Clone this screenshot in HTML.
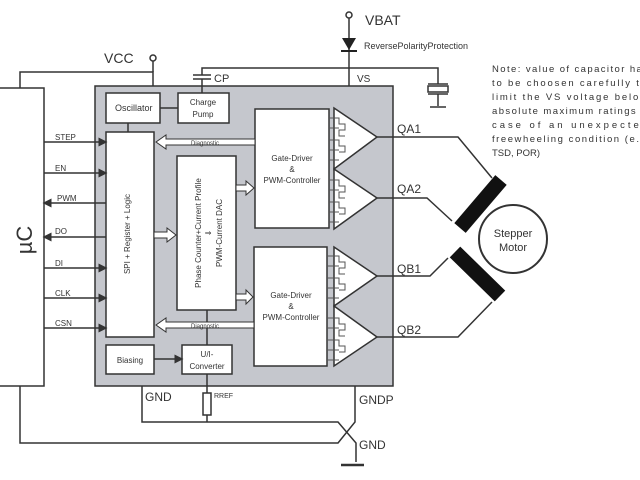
<!DOCTYPE html>
<html><head><meta charset="utf-8"><style>html,body{margin:0;padding:0;background:#fff;overflow:hidden}svg{display:block}</style></head><body>
<svg width="640" height="480" viewBox="0 0 640 480" xmlns="http://www.w3.org/2000/svg" font-family="Liberation Sans, sans-serif">
<defs>
<marker id="ar" markerWidth="6" markerHeight="6" refX="5" refY="3" orient="auto"><path d="M0,0 L6,3 L0,6z" fill="#333"/></marker>
</defs>
<g stroke="#333" stroke-width="1.5" fill="none">
<rect x="95" y="86" width="298" height="300" fill="#c5c7cd"/>
<rect x="-2" y="88" width="46" height="298" fill="#fff"/>
<polyline points="20,88 20,72 153,72 153,86"/>
<line x1="153" y1="72" x2="153" y2="61"/>
<circle cx="153" cy="58" r="3" fill="#fff"/>
<polyline points="202,93 202,79"/>
<line x1="193" y1="79" x2="211" y2="79"/>
<line x1="193" y1="75" x2="211" y2="75"/>
<polyline points="202,75 202,68 438,68 438,84"/>
<rect x="428" y="86" width="20" height="6" fill="#fff"/>
<line x1="428" y1="84" x2="448" y2="84"/>
<line x1="428" y1="94" x2="448" y2="94"/>
<line x1="438" y1="94" x2="438" y2="106"/>
<line x1="430" y1="107" x2="446" y2="107"/>
<line x1="349" y1="18" x2="349" y2="86"/>
<circle cx="349" cy="15" r="3" fill="#fff"/>
<rect x="106" y="93" width="54" height="30" fill="#fff"/>
<rect x="178" y="93" width="51" height="30" fill="#fff"/>
<line x1="160" y1="108" x2="178" y2="108"/>
<line x1="128" y1="123" x2="128" y2="132"/>
<rect x="106" y="132" width="48" height="205" fill="#fff"/>
<rect x="177" y="156" width="59" height="154" fill="#fff"/>
<rect x="255" y="109" width="74" height="119" fill="#fff"/>
<rect x="254" y="247" width="73" height="119" fill="#fff"/>
<rect x="106" y="345" width="48" height="29" fill="#fff"/>
<rect x="182" y="345" width="50" height="29" fill="#fff"/>
<line x1="154" y1="359" x2="182" y2="359" marker-end="url(#ar)"/>
<line x1="207" y1="310" x2="207" y2="345"/>
<polygon points="334,108 377,137 334,169" fill="#fff"/>
<polygon points="334,169 377,198 334,229" fill="#fff"/>
<polygon points="334,247 377,276 334,306" fill="#fff"/>
<polygon points="334,306 377,337 334,366" fill="#fff"/>
<polyline points="377,137 458,137 492,178"/>
<polyline points="377,198 427,198 452,221"/>
<polyline points="377,276 430,276 448,258"/>
<polyline points="377,337 458,337 492,302"/>
<circle cx="513" cy="239" r="34" stroke-width="2"/>
<line x1="44" y1="142" x2="106" y2="142" marker-end="url(#ar)"/>
<line x1="44" y1="173" x2="106" y2="173" marker-end="url(#ar)"/>
<line x1="106" y1="203" x2="44" y2="203" marker-end="url(#ar)"/>
<line x1="106" y1="237" x2="44" y2="237" marker-end="url(#ar)"/>
<line x1="44" y1="268" x2="106" y2="268" marker-end="url(#ar)"/>
<line x1="44" y1="298" x2="106" y2="298" marker-end="url(#ar)"/>
<line x1="44" y1="328" x2="106" y2="328" marker-end="url(#ar)"/>
<polyline points="142,386 142,422 338,422 356,443 356,462"/>
<polyline points="20,386 20,443 338,443 355,422 355,386"/>
<line x1="207" y1="374" x2="207" y2="393"/>
<rect x="203" y="393" width="8" height="22" fill="#fff"/>
<line x1="207" y1="415" x2="207" y2="422"/>
<line x1="341" y1="465" x2="364" y2="465" stroke-width="2.5"/>
</g>
<polygon points="342,38 356,38 349,50" fill="#222"/>
<line x1="341" y1="51" x2="357" y2="51" stroke="#222" stroke-width="2"/>
<line x1="501" y1="180" x2="460" y2="228" stroke="#111" stroke-width="15"/>
<line x1="455" y1="252" x2="500" y2="296" stroke="#111" stroke-width="15"/>
<g fill="#fff" stroke="#333" stroke-width="1">
<path d="M255,139 L166,139 L166,135 L156,142 L166,149 L166,145 L255,145z"/>
<path d="M254,322 L166,322 L166,318 L156,325 L166,332 L166,328 L254,328z"/>
<path d="M236,185 L246,185 L246,181 L254,188 L246,195 L246,191 L236,191z"/>
<path d="M236,294 L246,294 L246,290 L253,297 L246,304 L246,300 L236,300z"/>
<path d="M154,232 L167,232 L167,228 L176,235 L167,242 L167,238 L154,238z"/>
</g>
<g stroke="#555" stroke-width="1" fill="none">
<path d="M329,118h10v6h6v6h-6v6h6 M329,128h10 M329,140h10v6h6v6h-6 M329,150h10 M329,160h10"/>
<path d="M329,180h10v6h6v6h-6v6h6 M329,190h10 M329,202h10v6h6v6h-6 M329,212h10 M329,222h10"/>
<path d="M327,256h12v6h6v6h-6v6h6 M327,266h12 M327,278h12v6h6v6h-6 M327,288h12 M327,298h12"/>
<path d="M327,318h12v6h6v6h-6v6h6 M327,328h12 M327,340h12v6h6v6h-6 M327,350h12 M327,360h12"/>
</g>
<g fill="#333">
<text x="104" y="63" font-size="14">VCC</text>
<text x="365" y="25" font-size="14">VBAT</text>
<text x="364" y="49" font-size="9">ReversePolarityProtection</text>
<text x="214" y="82" font-size="11">CP</text>
<text x="357" y="82" font-size="10">VS</text>
<text x="115" y="111" font-size="9">Oscillator</text>
<text x="203" y="105" font-size="8" text-anchor="middle">Charge</text>
<text x="203" y="117" font-size="8" text-anchor="middle">Pump</text>
<text x="130" y="234" font-size="8" text-anchor="middle" transform="rotate(-90 130 234)">SPI + Register + Logic</text>
<text x="201" y="233" font-size="8" text-anchor="middle" transform="rotate(-90 201 233)">Phase Counter+Current Profile</text>
<text x="211" y="233" font-size="8" text-anchor="middle" transform="rotate(-90 211 233)">⇓</text>
<text x="222" y="233" font-size="8" text-anchor="middle" transform="rotate(-90 222 233)">PWM-Current DAC</text>
<text x="292" y="161" font-size="8" text-anchor="middle">Gate-Driver</text>
<text x="292" y="172" font-size="8" text-anchor="middle">&amp;</text>
<text x="292" y="183" font-size="8" text-anchor="middle">PWM-Controller</text>
<text x="291" y="298" font-size="8" text-anchor="middle">Gate-Driver</text>
<text x="291" y="309" font-size="8" text-anchor="middle">&amp;</text>
<text x="291" y="320" font-size="8" text-anchor="middle">PWM-Controller</text>
<text x="205" y="145" font-size="6" text-anchor="middle">Diagnostic</text>
<text x="205" y="328" font-size="6" text-anchor="middle">Diagnostic</text>
<text x="130" y="363" font-size="8" text-anchor="middle">Biasing</text>
<text x="207" y="357" font-size="8" text-anchor="middle">U/I-</text>
<text x="207" y="369" font-size="8" text-anchor="middle">Converter</text>
<text x="397" y="133" font-size="12">QA1</text>
<text x="397" y="193" font-size="12">QA2</text>
<text x="397" y="273" font-size="12">QB1</text>
<text x="397" y="334" font-size="12">QB2</text>
<text x="513" y="237" font-size="11" text-anchor="middle">Stepper</text>
<text x="513" y="251" font-size="11" text-anchor="middle">Motor</text>
<text x="55" y="140" font-size="8">STEP</text>
<text x="55" y="171" font-size="8">EN</text>
<text x="57" y="201" font-size="8">PWM</text>
<text x="55" y="234" font-size="8">DO</text>
<text x="55" y="266" font-size="8">DI</text>
<text x="55" y="296" font-size="8">CLK</text>
<text x="55" y="326" font-size="8">CSN</text>
<text x="32" y="240" font-size="22" text-anchor="middle" transform="rotate(-90 32 240)">µC</text>
<text x="145" y="401" font-size="12">GND</text>
<text x="214" y="398" font-size="7">RREF</text>
<text x="359" y="404" font-size="12">GNDP</text>
<text x="359" y="449" font-size="12">GND</text>
<g font-size="9.5">
<text x="492" y="72" textLength="156" lengthAdjust="spacing">Note: value of capacitor has</text>
<text x="492" y="86" textLength="154" lengthAdjust="spacing">to be choosen carefully to</text>
<text x="492" y="100" textLength="155" lengthAdjust="spacing">limit the VS voltage below</text>
<text x="492" y="114" textLength="158" lengthAdjust="spacing">absolute maximum ratings in</text>
<text x="492" y="128" textLength="155" lengthAdjust="spacing">case of an unexpected</text>
<text x="492" y="142" textLength="158" lengthAdjust="spacing">freewheeling condition (e.g.</text>
<text x="492" y="156">TSD, POR)</text>
</g>
</g>
</svg>
</body></html>
